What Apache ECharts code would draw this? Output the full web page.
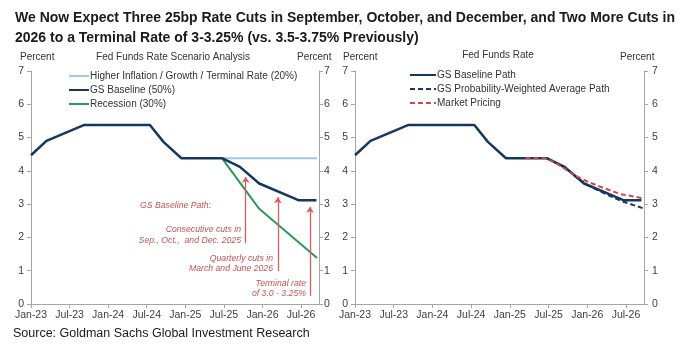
<!DOCTYPE html>
<html><head><meta charset="utf-8">
<script src="https://cdn.jsdelivr.net/npm/echarts@6/dist/echarts.min.js"></script>
<style>html,body{margin:0;padding:0;background:#fff}#c{width:684px;height:354px}</style>
</head><body><div id="c"></div>
<script>
// x values are months since Jan-23
const tickLabels = ['Jan-23','Jul-23','Jan-24','Jul-24','Jan-25','Jul-25','Jan-26','Jul-26'];
const baselineX = [0, 2.4, 8.3, 18.5, 20.6, 23.4, 29.7, 32.5, 35.5, 41.6, 44.4];
const baselineY = [4.47, 4.9, 5.38, 5.38, 4.87, 4.38, 4.38, 4.12, 3.62, 3.12, 3.12];
const higherX = [29.7, 44.5];
const higherY = [4.38, 4.38];
const recessionX = [29.7, 35.5, 44.5];
const recessionY = [4.38, 2.86, 1.38];
const probX = [29.7, 32.5, 34.5, 36.0, 38.6, 41.2, 44.6];
const probY = [4.38, 4.10, 3.78, 3.58, 3.33, 3.10, 2.88];
const marketX = [26.4, 29.5, 30.8, 32.4, 33.9, 36.0, 38.6, 41.2, 44.6];
const marketY = [4.38, 4.38, 4.27, 4.08, 3.88, 3.68, 3.48, 3.30, 3.18];
// annotation arrows: [x, from y, to y]
const arrowX = [33.4, 38.4, 43.4];
const arrowFrom = [1.82, 0.99, 0.24];
const arrowTo = [3.82, 3.21, 2.92];

const F = '"Liberation Sans", Arial, sans-serif';
const zip = (a, b) => a.map((v, i) => [v, b[i]]);
const NAVY = '#17375e', LBLUE = '#9cc9ea', GREEN = '#2b9a58', RED = '#d24848', ANN = '#c65252';
const AX = '#a6a6a6', LAB = '#404040';

function xAx(g) {
  return {type: 'value', gridIndex: g, min: 0, max: 44.8, interval: 6,
    axisLine: {lineStyle: {color: AX}}, axisTick: {length: 4, lineStyle: {color: AX}},
    splitLine: {show: false},
    axisLabel: {showMaxLabel: false, color: LAB, fontSize: 10.5, fontFamily: F, margin: 6,
      formatter: v => (Math.abs(v % 6) < 1e-9 ? tickLabels[Math.round(v / 6)] : '')}};
}
function yAx(g, pos, margin) {
  return {type: 'value', gridIndex: g, min: 0, max: 7, interval: 1, position: pos,
    axisLine: {show: true, lineStyle: {color: AX}}, axisTick: {show: true, length: 4, lineStyle: {color: AX}},
    splitLine: {show: false},
    axisLabel: {color: LAB, fontSize: 10.5, fontFamily: F, margin: margin}};
}
function txt(x, y, s, opt) {
  return {type: 'text', x: x, y: y, style: Object.assign({text: s, fill: '#333', font: '10px ' + F, textVerticalAlign: 'middle'}, opt || {})};
}
function ann(x, y, s, align) {
  return {type: 'text', x: x, y: y, style: {text: s, fill: ANN, font: 'italic 8.7px ' + F, textAlign: align || 'right', textVerticalAlign: 'middle'}};
}
const legendCommon = {orient: 'vertical', itemHeight: 12, itemGap: 4, itemStyle: {opacity: 0},
  textStyle: {fontFamily: F, fontSize: 10, color: '#333', padding: [0, 0, 0, -4]}};

const chart = echarts.init(document.getElementById('c'));
chart.setOption({
  animation: false,
  title: {text: 'We Now Expect Three 25bp Rate Cuts in September, October, and December, and Two More Cuts in\n2026 to a Terminal Rate of 3-3.25% (vs. 3.5-3.75% Previously)',
    left: 10, top: 3, textStyle: {fontFamily: F, fontWeight: 'bold', fontSize: 14, lineHeight: 20, color: '#1a1a1a'}},
  grid: [
    {left: 31, right: 365, top: 71, bottom: 50},
    {left: 355, right: 40, top: 71, bottom: 50}
  ],
  xAxis: [xAx(0), xAx(1)],
  yAxis: [yAx(0, 'left', 7), yAx(0, 'right', 5), yAx(1, 'left', 7), yAx(1, 'right', 8)],
  legend: [
    Object.assign({left: 63, top: 66, itemWidth: 20,
      data: ['Higher Inflation / Growth / Terminal Rate (20%)', 'GS Baseline (50%)', 'Recession (30%)']}, legendCommon),
    Object.assign({left: 404, top: 65, itemWidth: 26,
      data: ['GS Baseline Path', 'GS Probability-Weighted Average Path', 'Market Pricing']}, legendCommon)
  ],
  series: [
    {name: 'Higher Inflation / Growth / Terminal Rate (20%)', type: 'line', xAxisIndex: 0, yAxisIndex: 0, symbol: 'none',
      data: zip(higherX, higherY), lineStyle: {color: LBLUE, width: 2}, itemStyle: {color: LBLUE}},
    {name: 'Recession (30%)', type: 'line', xAxisIndex: 0, yAxisIndex: 0, symbol: 'none',
      data: zip(recessionX, recessionY), lineStyle: {color: GREEN, width: 2}, itemStyle: {color: GREEN},
      markLine: {silent: true, symbol: ['none', 'arrow'], symbolSize: 6, label: {show: false},
        lineStyle: {color: '#dc5c5c', width: 1.3, type: 'solid'},
        data: arrowX.map((x, i) => [{coord: [x, arrowFrom[i]]}, {coord: [x, arrowTo[i]]}])}},
    {name: 'GS Baseline (50%)', type: 'line', xAxisIndex: 0, yAxisIndex: 0, symbol: 'none',
      data: zip(baselineX, baselineY), lineStyle: {color: NAVY, width: 2.5}, itemStyle: {color: NAVY}},
    {name: 'GS Baseline Path', type: 'line', xAxisIndex: 1, yAxisIndex: 2, symbol: 'none',
      data: zip(baselineX, baselineY), lineStyle: {color: NAVY, width: 2.5}, itemStyle: {color: NAVY}},
    {name: 'GS Probability-Weighted Average Path', type: 'line', xAxisIndex: 1, yAxisIndex: 2, symbol: 'none',
      data: zip(probX, probY), lineStyle: {color: NAVY, width: 2, type: [5, 3]}, itemStyle: {color: NAVY}},
    {name: 'Market Pricing', type: 'line', xAxisIndex: 1, yAxisIndex: 2, symbol: 'none',
      data: zip(marketX, marketY), lineStyle: {color: RED, width: 2, type: [5, 3]}, itemStyle: {color: RED}}
  ],
  graphic: [
    txt(20, 57, 'Percent'),
    txt(173, 57, 'Fed Funds Rate Scenario Analysis', {textAlign: 'center'}),
    txt(297, 57, 'Percent'),
    txt(343, 57, 'Percent'),
    txt(498, 55, 'Fed Funds Rate', {textAlign: 'center'}),
    txt(620, 57, 'Percent'),
    ann(140, 206, 'GS Baseline Path:', 'left'),
    ann(241, 230, 'Consecutive cuts in'),
    ann(241, 241, 'Sep., Oct.,  and Dec. 2025'),
    ann(273, 259, 'Quarterly cuts in'),
    ann(273, 269, 'March and June 2026'),
    ann(306, 284, 'Terminal rate'),
    ann(306, 294, 'of 3.0 - 3.25%'),
    txt(13, 334, 'Source: Goldman Sachs Global Investment Research', {fill: '#1a1a1a', font: '12.5px ' + F})
  ]
});
</script></body></html>
